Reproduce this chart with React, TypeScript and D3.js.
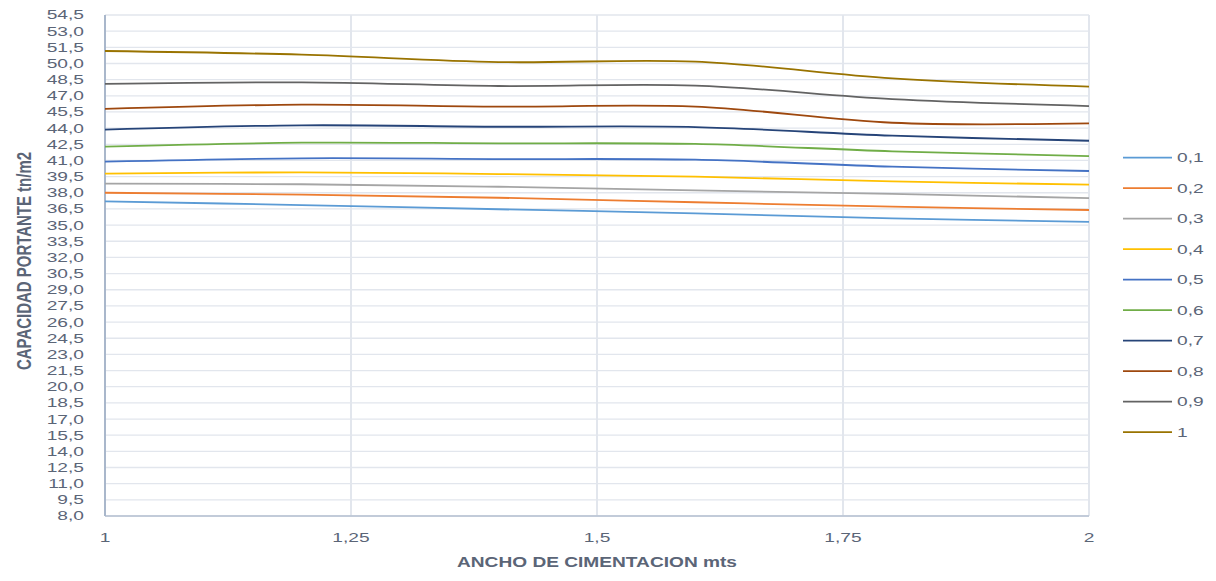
import React from "react";
import * as d3 from "d3";

// Footing width (m) at which bearing capacity was computed
const anchos: number[] = [1, 1.2, 1.4, 1.6, 1.8, 2];

// Bearing capacity (tn/m2) per curve
const serie01: number[] = [37.2, 36.86, 36.47, 36.09, 35.63, 35.29];
const serie02: number[] = [38.0, 37.82, 37.54, 37.12, 36.71, 36.4];
const serie03: number[] = [38.84, 38.79, 38.56, 38.23, 37.89, 37.51];
const serie04: number[] = [39.77, 39.9, 39.74, 39.49, 39.06, 38.75];
const serie05: number[] = [40.89, 41.2, 41.13, 41.07, 40.42, 40.02];
const serie06: number[] = [42.28, 42.65, 42.59, 42.53, 41.85, 41.41];
const serie07: number[] = [43.86, 44.26, 44.13, 44.1, 43.3, 42.83];
const serie08: number[] = [45.78, 46.18, 45.99, 46.0, 44.5, 44.45];
const serie09: number[] = [48.1, 48.25, 47.91, 47.95, 46.7, 46.05];
const serie10: number[] = [51.16, 50.82, 50.13, 50.17, 48.62, 47.85];

const seriesNames: string[] = ["0,1", "0,2", "0,3", "0,4", "0,5", "0,6", "0,7", "0,8", "0,9", "1"];
const seriesValues: number[][] = [serie01, serie02, serie03, serie04, serie05, serie06, serie07, serie08, serie09, serie10];
const seriesColors: string[] = [
  "#5B9BD5", "#ED7D31", "#A5A5A5", "#FFC000", "#4472C4",
  "#70AD47", "#264478", "#9E480E", "#636363", "#997300",
];

const xTickValues: number[] = [1, 1.25, 1.5, 1.75, 2];
const xTickLabels: string[] = ["1", "1,25", "1,5", "1,75", "2"];
const yTickValues: number[] = [
  8.0, 9.5, 11.0, 12.5, 14.0, 15.5, 17.0, 18.5, 20.0, 21.5, 23.0, 24.5, 26.0, 27.5, 29.0, 30.5,
  32.0, 33.5, 35.0, 36.5, 38.0, 39.5, 41.0, 42.5, 44.0, 45.5, 47.0, 48.5, 50.0, 51.5, 53.0, 54.5,
];

const W = 1216;
const H = 581;
const plot = { left: 105, right: 1089, top: 15, bottom: 516 };
const textColor = "#5b6577";
const gridColor = "#e2e6ed";
const font = "'Liberation Sans', Arial, sans-serif";
const sx = 1.42; // horizontal text stretch

export default function App() {
  const x = d3.scaleLinear().domain([1, 2]).range([plot.left, plot.right]);
  const y = d3.scaleLinear().domain([8, 54.5]).range([plot.bottom, plot.top]);
  const line = d3
    .line<[number, number]>()
    .x((d) => x(d[0]))
    .y((d) => y(d[1]))
    .curve(d3.curveCatmullRom.alpha(0.5));

  const fmt = (v: number) => v.toFixed(1).replace(".", ",");

  return (
    <svg
      width={W}
      height={H}
      style={{ position: "absolute", left: 0, top: 0, background: "#fff" }}
      fontFamily={font}
    >
      <rect width={W} height={H} fill="#fff" />
      {/* horizontal grid */}
      {yTickValues.map((v) => (
        <line key={"h" + v} x1={plot.left} x2={plot.right} y1={y(v)} y2={y(v)} stroke={gridColor} strokeWidth={1.3} />
      ))}
      {/* vertical grid */}
      {xTickValues.slice(1).map((v) => (
        <line key={"v" + v} x1={x(v)} x2={x(v)} y1={plot.top} y2={plot.bottom} stroke={gridColor} strokeWidth={2} />
      ))}
      {/* axes */}
      <line x1={plot.left} x2={plot.right} y1={plot.bottom} y2={plot.bottom} stroke="#b4c0d0" strokeWidth={1.5} />
      <line x1={plot.left} x2={plot.left} y1={plot.top} y2={plot.bottom} stroke="#a9b7cb" strokeWidth={2} />

      {/* curves */}
      {seriesValues.map((vals, i) => (
        <path
          key={seriesNames[i]}
          d={line(anchos.map((a, j) => [a, vals[j]] as [number, number])) || ""}
          fill="none"
          stroke={seriesColors[i]}
          strokeWidth={1.8}
        />
      ))}

      {/* y tick labels */}
      {yTickValues.map((v) => (
        <text
          key={"yl" + v}
          transform={`translate(84,${y(v)}) scale(${sx},1)`}
          textAnchor="end"
          dominantBaseline="central"
          fontSize={13.5}
          fill={textColor}
        >
          {fmt(v)}
        </text>
      ))}
      {/* x tick labels */}
      {xTickValues.map((v, i) => (
        <text
          key={"xl" + v}
          transform={`translate(${x(v)},538) scale(${sx},1)`}
          textAnchor="middle"
          dominantBaseline="central"
          fontSize={13.5}
          fill={textColor}
        >
          {xTickLabels[i]}
        </text>
      ))}

      {/* axis titles */}
      <text
        x={597}
        y={567}
        textAnchor="middle"
        fontSize={14.6}
        fontWeight="bold"
        fill={textColor}
        textLength={280}
        lengthAdjust="spacingAndGlyphs"
      >
        ANCHO DE CIMENTACION mts
      </text>
      <text
        transform={`translate(31,261) scale(${sx},1) rotate(-90)`}
        textAnchor="middle"
        fontSize={14.6}
        fontWeight="bold"
        fill={textColor}
        textLength={218}
        lengthAdjust="spacingAndGlyphs"
      >
        CAPACIDAD PORTANTE tn/m2
      </text>

      {/* legend */}
      {seriesNames.map((name, i) => {
        const ly = 157.7 + i * 30.5;
        return (
          <g key={"lg" + name}>
            <line x1={1123} x2={1172} y1={ly} y2={ly} stroke={seriesColors[i]} strokeWidth={1.8} />
            <text
              transform={`translate(1177,${ly}) scale(${sx},1)`}
              dominantBaseline="central"
              fontSize={13.5}
              fill={textColor}
            >
              {name}
            </text>
          </g>
        );
      })}
    </svg>
  );
}
